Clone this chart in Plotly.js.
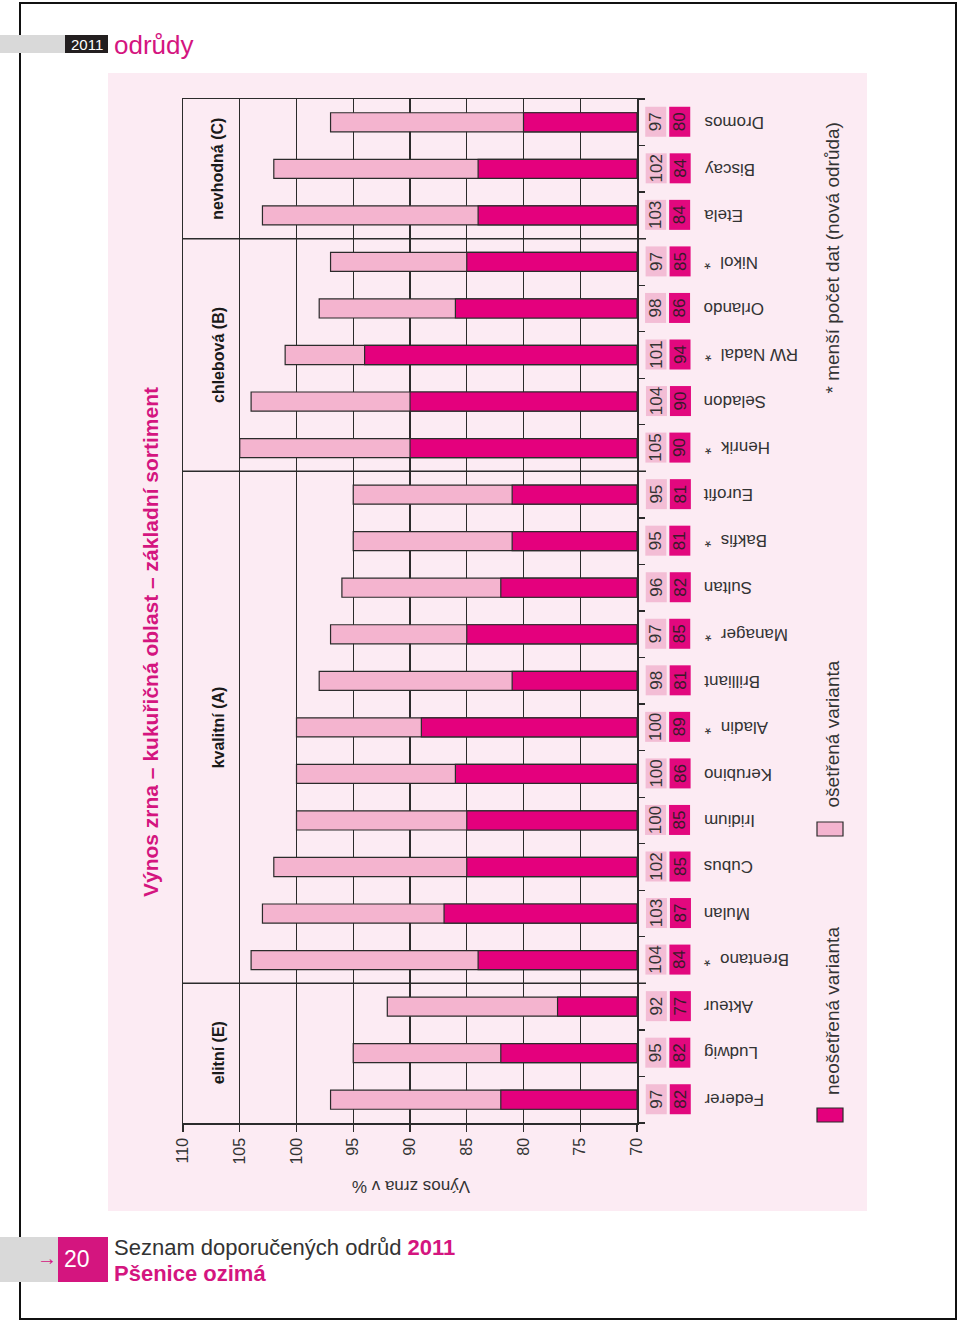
<!DOCTYPE html>
<html><head><meta charset="utf-8">
<script src="https://cdn.plot.ly/plotly-3.0.1.min.js"></script>
<style>html,body{margin:0;padding:0;background:#fff;}#chart{width:960px;height:1324px;}</style>
</head><body><div id="chart"></div>
<script>
// ---- data ----
const varieties = ['Federer','Ludwig','Akteur','Brentano','Mulan','Cubus','Iridium','Kerubino','Aladin','Brilliant','Manager','Sultan','Bakfis','Eurofit','Henrik','Seladon','RW Nadal','Orlando','Nikol','Etela','Biscay','Dromos'];
const fewerData = [false,false,false,true,false,false,false,false,true,false,true,false,true,false,true,false,true,false,true,false,false,false];
const treated   = [97,95,92,104,103,102,100,100,100,98,97,96,95,95,105,104,101,98,97,103,102,97];
const untreated = [82,82,77,84,87,85,85,86,89,81,85,82,81,81,90,90,94,86,85,84,84,80];
const groups = ['elitní (E)','kvalitní (A)','chlebová (B)','nevhodná (C)'];
const groupSizes = [3,11,5,3];
const valueTicks = [70,75,80,85,90,95,100,105,110];
const baseValue = 70;
const chartTitle = 'Výnos zrna – kukuřičná oblast – základní sortiment';
const axisTitle = 'Výnos zrna v %';
const legendUntreated = 'neošetřená varianta';
const legendTreated = 'ošetřená varianta';
const footnote = '* menší počet dat (nová odrůda)';

// ---- geometry / style ----
const W = 960, H = 1324, L = 183, R = 637, T = 99, B = 1123;
const px = x => (x - L) / (R - L);
const py = y => (B - y) / (B - T);
const FONT = 'Liberation Sans, Arial, sans-serif';
const NARROW = 'Liberation Sans Narrow, Liberation Sans, Arial, sans-serif';
const C = {bg:'#fcebf3', pink:'#f4b4cf', mag:'#e4007d', pinkBox:'#f3bdd5', magBox:'#e2087e', line:'#2b2b2b', text:'#333333', brand:'#d4157f'};

const traces = [
  {type:'bar', orientation:'h', name:legendTreated, y:varieties, x:treated.map(v=>v-baseValue), base:baseValue,
   width:0.41, marker:{color:C.pink, line:{color:C.line, width:1.2}}, hoverinfo:'skip'},
  {type:'bar', orientation:'h', name:legendUntreated, y:varieties, x:untreated.map(v=>v-baseValue), base:baseValue,
   width:0.41, marker:{color:C.mag, line:{color:C.line, width:1.2}}, hoverinfo:'skip'}
];

const ann = [];
const A = o => ann.push(Object.assign({showarrow:false, xref:'paper', yref:'paper', xanchor:'center', yanchor:'middle'}, o));
const shapes = [];

// page decoration
shapes.push({type:'rect', xref:'paper', yref:'paper', layer:'below', x0:px(108), x1:px(867), y0:py(73), y1:py(1211), fillcolor:C.bg, line:{width:0}});
shapes.push({type:'rect', xref:'paper', yref:'paper', x0:px(20), x1:px(956), y0:py(3), y1:py(1319), line:{color:'#111', width:2}});
shapes.push({type:'rect', xref:'paper', yref:'paper', x0:px(0), x1:px(65), y0:py(35), y1:py(53), fillcolor:'#d9d9d9', line:{width:0}});
shapes.push({type:'rect', xref:'paper', yref:'paper', x0:px(65), x1:px(108), y0:py(35), y1:py(53), fillcolor:'#231f20', line:{width:0}});
shapes.push({type:'rect', xref:'paper', yref:'paper', x0:px(0), x1:px(58), y0:py(1237), y1:py(1282), fillcolor:'#d9d9d9', line:{width:0}});
shapes.push({type:'rect', xref:'paper', yref:'paper', x0:px(58), x1:px(108), y0:py(1237), y1:py(1282), fillcolor:C.brand, line:{width:0}});
A({x:px(86.5), y:py(44.5), text:'2011', font:{family:FONT, size:15, color:'#fff'}});
A({x:px(112), y:py(45), xanchor:'left', text:'odrůdy', font:{family:FONT, size:26, color:C.brand}});
A({x:px(47), y:py(1258), text:'→', font:{family:FONT, size:20, color:C.brand}});
A({x:px(62), y:py(1259), xanchor:'left', text:'20', font:{family:FONT, size:23, color:'#fff'}});
A({x:px(112), y:py(1247), xanchor:'left', text:'Seznam doporučených odrůd <b><span style="color:'+C.brand+'">2011</span></b>', font:{family:FONT, size:22, color:C.text}});
A({x:px(112), y:py(1273), xanchor:'left', text:'<b>Pšenice ozimá</b>', font:{family:FONT, size:22, color:C.brand}});

// chart title
A({x:px(150), y:py(642), text:'<b>'+chartTitle+'</b>', textangle:-90, font:{family:FONT, size:21, color:C.brand}});
// axis title (upside down)
A({x:px(411), y:py(1187), text:axisTitle, textangle:180, font:{family:FONT, size:17, color:C.text}});

// group separators and labels
let start = 0;
groups.forEach((g, gi) => {
  const size = groupSizes[gi];
  A({xref:'paper', yref:'y', x:px(218), y:start + (size-1)/2, text:'<b>'+g+'</b>', textangle:-90, font:{family:FONT, size:16, color:'#1a1a1a'}});
  start += size;
  if (start < varieties.length) {
    shapes.push({type:'line', xref:'paper', yref:'y', x0:0, x1:px(646), y0:start-0.5, y1:start-0.5, line:{color:C.line, width:1.5}});
  }
});

// value boxes and variety names
varieties.forEach((v, i) => {
  A({yref:'y', x:px(656), y:i, text:String(treated[i]), textangle:-90, width:29, height:20, borderpad:0,
     bgcolor:C.pinkBox, font:{family:NARROW, size:17, color:C.text}});
  A({yref:'y', x:px(680), y:i, text:String(untreated[i]), textangle:-90, width:29, height:20, borderpad:0,
     bgcolor:C.magBox, font:{family:NARROW, size:17, color:'#3a1a2a'}});
  A({yref:'y', x:px(702), xanchor:'left', y:i, text:v + (fewerData[i] ? '  *' : ''), textangle:180,
     font:{family:FONT, size:17, color:C.text}});
});

// legend
shapes.push({type:'rect', xref:'paper', yref:'paper', x0:px(817), x1:px(843), y0:py(1122), y1:py(1108), fillcolor:C.mag, line:{color:C.line, width:1.2}});
shapes.push({type:'rect', xref:'paper', yref:'paper', x0:px(817), x1:px(843), y0:py(836), y1:py(822), fillcolor:C.pink, line:{color:C.line, width:1.2}});
A({x:px(832), y:py(1097), yanchor:'bottom', text:legendUntreated, textangle:-90, font:{family:FONT, size:19, color:C.text}});
A({x:px(832), y:py(810), yanchor:'bottom', text:legendTreated, textangle:-90, font:{family:FONT, size:19, color:C.text}});
A({x:px(832), y:py(396), yanchor:'bottom', text:footnote, textangle:-90, font:{family:FONT, size:19, color:C.text}});

const layout = {
  width:W, height:H, margin:{l:L, r:W-R, t:T, b:H-B, pad:0},
  paper_bgcolor:'#ffffff', plot_bgcolor:C.bg, barmode:'overlay', showlegend:false,
  font:{family:FONT, color:C.text},
  xaxis:{range:[110,70], tickvals:valueTicks, ticktext:valueTicks.map(String), ticks:'outside', ticklen:7, tickwidth:1.3, tickcolor:C.line,
         tickangle:-90, tickfont:{family:FONT, size:16, color:C.text}, showgrid:true, gridcolor:C.line, gridwidth:1.3,
         showline:true, mirror:true, linecolor:C.line, linewidth:1.5, zeroline:false, fixedrange:true},
  yaxis:{type:'category', categoryorder:'array', categoryarray:varieties, range:[-0.5, varieties.length-0.5], side:'right',
         showticklabels:false, ticks:'outside', tickson:'boundaries', ticklen:6, tickcolor:C.line, tickwidth:1.3,
         showgrid:false, showline:true, mirror:true, linecolor:C.line, linewidth:1.5, zeroline:false, fixedrange:true},
  shapes:shapes, annotations:ann
};
Plotly.newPlot('chart', traces, layout, {displayModeBar:false, staticPlot:true});
</script></body></html>
